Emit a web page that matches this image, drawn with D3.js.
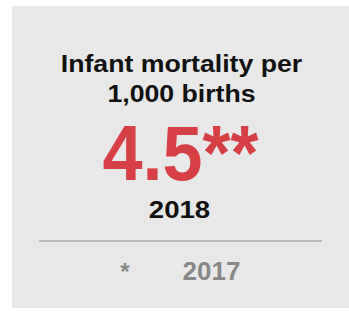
<!DOCTYPE html>
<html>
<head>
<meta charset="utf-8">
<script src="https://d3js.org/d3.v7.min.js"></script>
<style>
  html, body { margin: 0; padding: 0; background: #fff; }
  svg { display: block; }
</style>
</head>
<body>
<svg id="chart" width="349" height="311"></svg>
<script>
var titleLines = ['Infant mortality per', '1,000 births']
var values = [4.5]
var valueMarks = ['**']
var years = ['2018', '2017']
var prevMarks = ['*']

var width = 349, height = 311
var svg = d3.select('#chart')
var font = '"Liberation Sans", Arial, Helvetica, sans-serif'
var cx = 181.5

// text drawn at (x, y) and squeezed/stretched sideways by sx
function label(x, y, sx, size, color, txt) {
  return svg.append('text')
    .attr('transform', 'translate(' + [x, y] + ') scale(' + sx + ',1)')
    .attr('text-anchor', 'middle')
    .style('font-family', font)
    .style('font-weight', 'bold')
    .style('font-size', size + 'px')
    .style('fill', color)
    .text(txt)
}

var defs = svg.append('defs')
var blur = defs.append('filter').attr('id', 'shadow')
  .attr('x', '-5%').attr('y', '-200%').attr('width', '110%').attr('height', '500%')
blur.append('feGaussianBlur').attr('stdDeviation', 2.5)

// panel
svg.append('rect')
  .attr('x', 12).attr('y', 6)
  .attr('width', width - 12).attr('height', 302)
  .attr('fill', '#e8e8e8')

// title
var y = d3.scaleLinear().domain([0, 1]).range([72, 101.5])
titleLines.forEach(function(d, i) {
  label(cx, y(i), 1.16, 23, '#111', d)
})

// big value
values.forEach(function(d, i) {
  label(cx - 1, 180, 0.935, 77, '#d64045', d3.format('.1f')(d) + valueMarks[i])
})

// year
label(179.5, 218, 1.15, 24, '#111', years[0])

// divider with soft shadow
svg.append('line')
  .attr('x1', 39).attr('x2', 322).attr('y1', 244).attr('y2', 244)
  .attr('stroke', '#000').attr('stroke-opacity', 0.12).attr('stroke-width', 4)
  .attr('filter', 'url(#shadow)')
svg.append('line')
  .attr('x1', 39).attr('x2', 322).attr('y1', 241).attr('y2', 241)
  .attr('stroke', '#bbb').attr('stroke-width', 2)

// previous year
label(125, 280, 1, 24, '#888', prevMarks[0])
label(211.5, 280, 1.04, 25, '#888', years[1])
</script>
</body>
</html>
